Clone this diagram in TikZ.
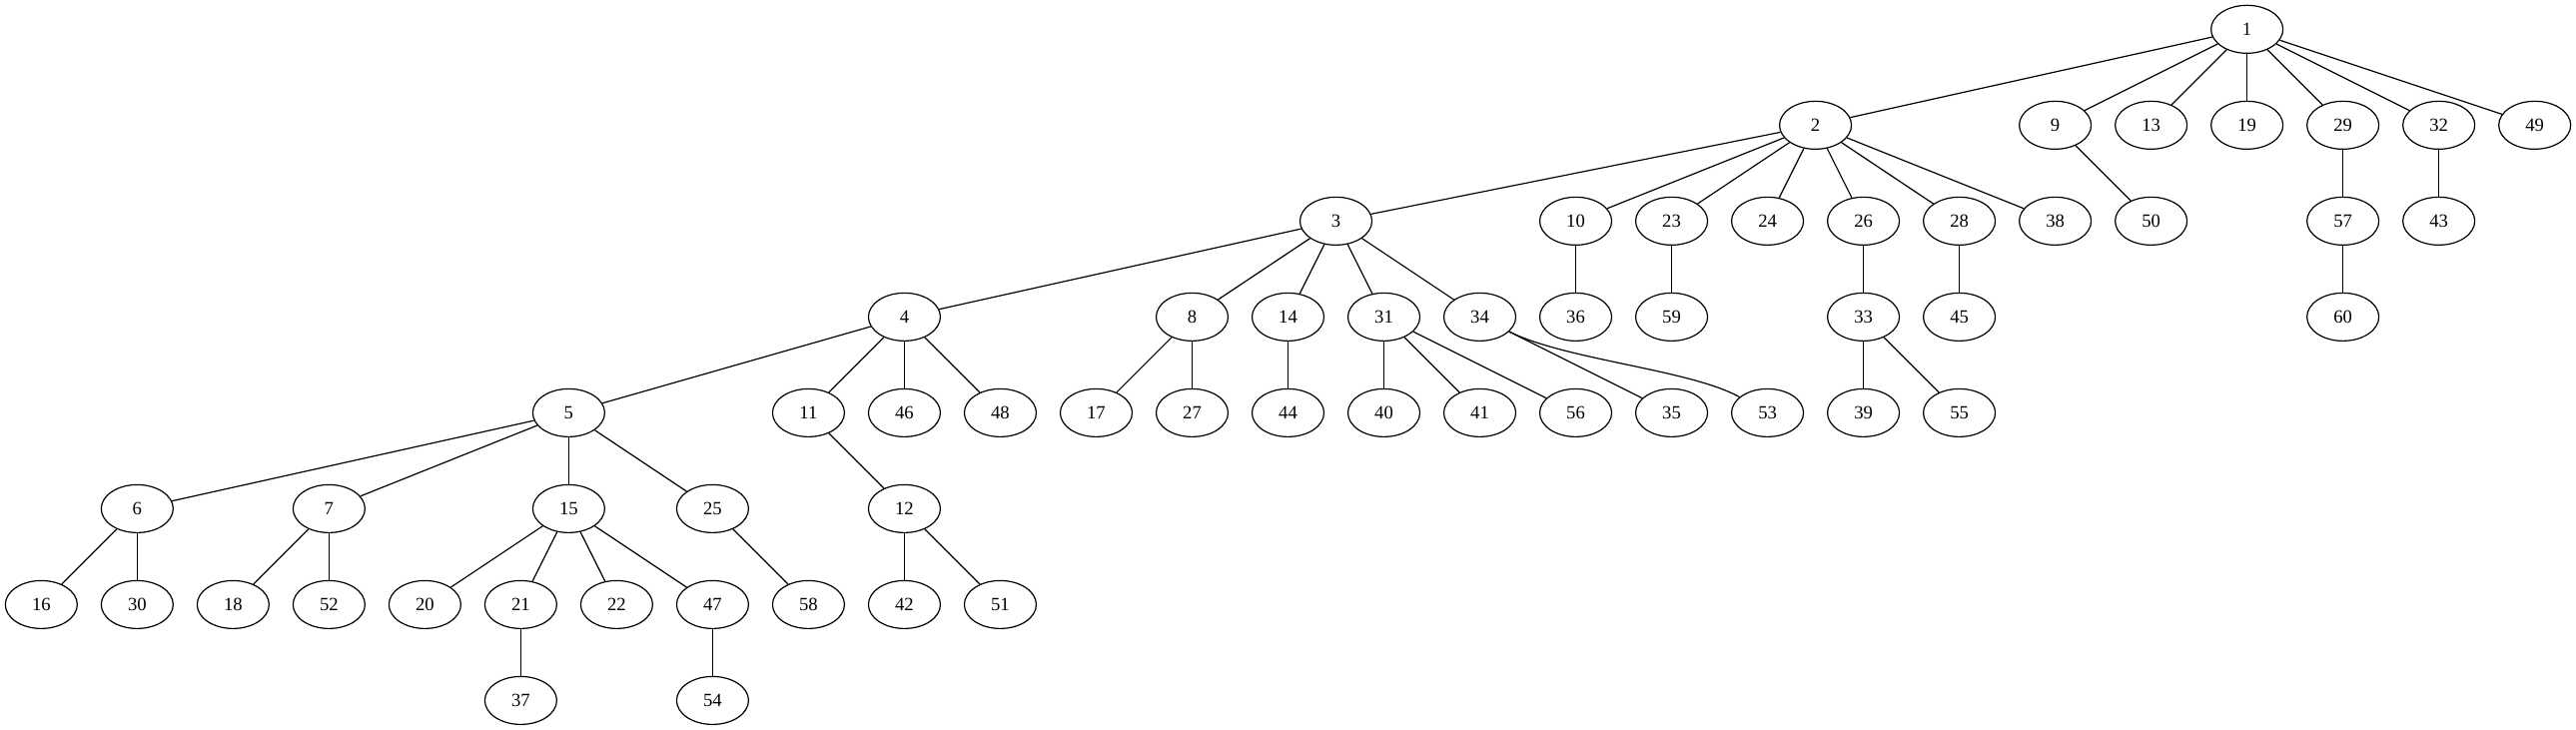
\documentclass[tikz,border=0pt]{standalone}
\usepackage{fontspec}
\setmainfont{Liberation Serif}
\usepackage{tikz}
\usetikzlibrary{shapes.geometric}
\tikzset{vertex/.style={ellipse,draw,line width=0.9pt,minimum width=54pt,minimum height=36pt,inner sep=0pt,font=\fontsize{14pt}{16pt}\selectfont}}

\begin{document}
\begin{tikzpicture}
[x=72pt, y=72pt, line width=0.9pt]
\useasboundingbox (-31pt,22pt) rectangle (1903pt,-526pt);
\node (1) at (23,0)[vertex]{1};

\node (2) at (18.5,-1)[vertex]{2};
\node (9) at (21,-1)[vertex]{9};
\node (13) at (22,-1)[vertex]{13};
\node (19) at (23,-1)[vertex]{19};
\node (29) at (24,-1)[vertex]{29};
\node (32) at (25,-1)[vertex]{32};
\node (49) at (26,-1)[vertex]{49};

\node (3) at (13.5,-2)[vertex]{3};
\node (10) at (16,-2)[vertex]{10};
\node (23) at (17,-2)[vertex]{23};
\node (24) at (18,-2)[vertex]{24};
\node (26) at (19,-2)[vertex]{26};
\node (28) at (20,-2)[vertex]{28};
\node (38) at (21,-2)[vertex]{38};
\node (50) at (22,-2)[vertex]{50};
\node (57) at (24,-2)[vertex]{57};
\node (43) at (25,-2)[vertex]{43};

\node (4) at (9,-3)[vertex]{4};
\node (8) at (12,-3)[vertex]{8};
\node (14) at (13,-3)[vertex]{14};
\node (31) at (14,-3)[vertex]{31};
\node (34) at (15,-3)[vertex]{34};
\node (36) at (16,-3)[vertex]{36};
\node (59) at (17,-3)[vertex]{59};
\node (33) at (19,-3)[vertex]{33};
\node (45) at (20,-3)[vertex]{45};
\node (60) at (24,-3)[vertex]{60};

\node (5) at (5.5,-4)[vertex]{5};
\node (11) at (8,-4)[vertex]{11};
\node (46) at (9,-4)[vertex]{46};
\node (48) at (10,-4)[vertex]{48};
\node (17) at (11,-4)[vertex]{17};
\node (27) at (12,-4)[vertex]{27};
\node (44) at (13,-4)[vertex]{44};
\node (40) at (14,-4)[vertex]{40};
\node (41) at (15,-4)[vertex]{41};
\node (56) at (16,-4)[vertex]{56};
\node (35) at (17,-4)[vertex]{35};
\node (53) at (18,-4)[vertex]{53};
\node (39) at (19,-4)[vertex]{39};
\node (55) at (20,-4)[vertex]{55};

\node (6) at (1,-5)[vertex]{6};
\node (7) at (3,-5)[vertex]{7};
\node (15) at (5.5,-5)[vertex]{15};
\node (25) at (7,-5)[vertex]{25};
\node (12) at (9,-5)[vertex]{12};

\node (16) at (0,-6)[vertex]{16};
\node (30) at (1,-6)[vertex]{30};
\node (18) at (2,-6)[vertex]{18};
\node (52) at (3,-6)[vertex]{52};
\node (20) at (4,-6)[vertex]{20};
\node (21) at (5,-6)[vertex]{21};
\node (22) at (6,-6)[vertex]{22};
\node (47) at (7,-6)[vertex]{47};
\node (58) at (8,-6)[vertex]{58};
\node (42) at (9,-6)[vertex]{42};
\node (51) at (10,-6)[vertex]{51};

\node (37) at (5,-7)[vertex]{37};
\node (54) at (7,-7)[vertex]{54};

\draw (1) -- (2);
\draw (1) -- (9);
\draw (1) -- (13);
\draw (1) -- (19);
\draw (1) -- (29);
\draw (1) -- (32);
\draw (1) -- (49);
\draw (2) -- (3);
\draw (2) -- (10);
\draw (2) -- (23);
\draw (2) -- (24);
\draw (2) -- (26);
\draw (2) -- (28);
\draw (2) -- (38);
\draw (9) -- (50);
\draw (29) -- (57);
\draw (32) -- (43);
\draw (57) -- (60);
\draw (3) -- (4);
\draw (3) -- (8);
\draw (3) -- (14);
\draw (3) -- (31);
\draw (3) -- (34);
\draw (10) -- (36);
\draw (23) -- (59);
\draw (26) -- (33);
\draw (28) -- (45);
\draw (4) -- (5);
\draw (4) -- (11);
\draw (4) -- (46);
\draw (4) -- (48);
\draw (8) -- (17);
\draw (8) -- (27);
\draw (14) -- (44);
\draw (31) -- (40);
\draw (31) -- (41);
\draw (31) -- (56);
\draw (34) -- (35);
\draw (34) .. controls (15.9,-3.45) and (17.2,-3.55) .. (53);
\draw (33) -- (39);
\draw (33) -- (55);
\draw (5) -- (6);
\draw (5) -- (7);
\draw (5) -- (15);
\draw (5) -- (25);
\draw (11) -- (12);
\draw (6) -- (16);
\draw (6) -- (30);
\draw (7) -- (18);
\draw (7) -- (52);
\draw (15) -- (20);
\draw (15) -- (21);
\draw (15) -- (22);
\draw (15) -- (47);
\draw (25) -- (58);
\draw (12) -- (42);
\draw (12) -- (51);
\draw (21) -- (37);
\draw (47) -- (54);
\end{tikzpicture}
\end{document}
